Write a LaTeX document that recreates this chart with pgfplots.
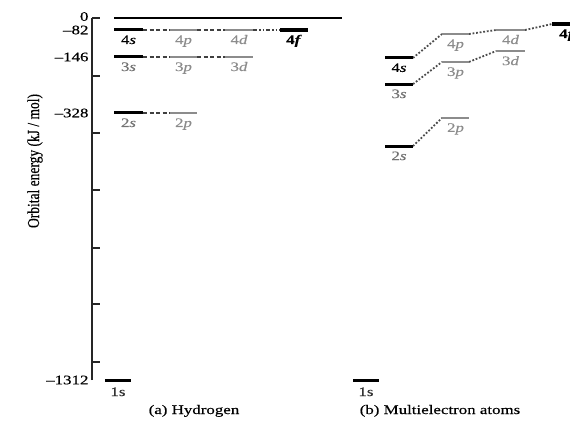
\documentclass[border=0pt]{standalone}
\usepackage{fontspec}
\setmainfont{Liberation Serif}[FakeStretch=1.3, FakeBold=0.4]
\newfontfamily\ylabfont{Liberation Serif}[FakeBold=0.4]
\usepackage{pgfplots}
\pgfplotsset{compat=1.18}
\definecolor{lvlgray}{gray}{0.55}
\definecolor{txtgray}{gray}{0.45}
\newcommand\fs{\fontsize{13}{15}\selectfont}
\tikzset{
    slev/.style={black, line width=3pt},
    plev/.style={lvlgray, line width=2.5pt},
    flev/.style={black, line width=4pt},
    hcon/.style={black!75, line width=1.3pt, dash pattern=on 4pt off 2.5pt},
    mcon/.style={black!70, line width=1.8pt, dash pattern=on 1.8pt off 1.8pt},
    lab/.style={font=\fs, anchor=base, yshift=-14pt},
}

\begin{document}
\begin{tikzpicture}
\useasboundingbox (0,0) rectangle (570pt,-426pt);
\begin{axis}[
    at={(92pt,-380pt)}, anchor=south west,
    x=1pt, y=1pt,
    xmin=92, xmax=580,
    ymin=-1312, ymax=0,
    % the energy scale of the drawing is not linear
    y coord trafo/.code={\pgfmathparse{#1>-82 ? #1*0.146341 : (#1>-146 ? -12+(#1+82)*0.421875 : (#1>-328 ? -39+(#1+146)*0.307692 : -95+(#1+328)*0.271341))}},
    clip=false,
    axis x line=none,
    axis y line*=left,
    axis line style={line width=1.6pt, draw=black!85},
    tick align=inside,
    major tick length=8pt,
    tick style={line width=1.6pt, draw=black!85},
    ytick={0,-208,-402,-612,-826,-1032,-1246},
    yticklabels={\raisebox{3pt}{0},{},{},{},{},{},{}},
    extra y ticks={-82,-146,-328,-1312},
    extra y tick labels={–82,–146,–328,–1312},
    extra y tick style={major tick length=0pt},
    yticklabel style={font=\fs, anchor=east},
    ylabel={\scalebox{1}[1.25]{\ylabfont\fontsize{13.5}{15}\selectfont Orbital energy (kJ / mol)}},
    every axis y label/.style={at={(rel axis cs:0,0.605)}, rotate=90, anchor=center, yshift=57pt},
]
% zero line
\addplot[black, line width=1.6pt] coordinates {(114,0) (342,0)};

% hydrogen connectors
\addplot[hcon] coordinates {(143,-328) (170,-328)};
\addplot[hcon] coordinates {(143,-146) (170,-146)};
\addplot[hcon] coordinates {(197,-146) (225,-146)};
\addplot[hcon] coordinates {(143,-82) (170,-82)};
\addplot[hcon] coordinates {(197,-82) (225,-82)};
\addplot[black!75, line width=1.3pt, dash pattern=on 4pt off 2pt on 1.5pt off 2pt on 1.5pt off 2pt] coordinates {(253,-82) (280,-82)};

% hydrogen levels
\addplot[slev] coordinates {(105,-1312) (131,-1312)};
\addplot[slev] coordinates {(114,-328) (143,-328)};
\addplot[slev] coordinates {(114,-146) (143,-146)};
\addplot[slev] coordinates {(114,-82) (143,-82)};
\addplot[plev] coordinates {(170,-328) (197,-328)};
\addplot[plev] coordinates {(170,-146) (197,-146)};
\addplot[plev] coordinates {(170,-82) (197,-82)};
\addplot[plev] coordinates {(225,-146) (253,-146)};
\addplot[plev] coordinates {(225,-82) (253,-82)};
\addplot[flev] coordinates {(280,-82) (308,-82)};

% multielectron connectors
\addplot[mcon] coordinates {(413,-450) (442,-346)};
\addplot[mcon] coordinates {(413,-234) (442,-162)};
\addplot[mcon] coordinates {(469,-162) (496,-132)};
\addplot[mcon] coordinates {(413,-149) (442,-91.5)};
\addplot[mcon] coordinates {(469,-91.5) (496,-82)};
\addplot[mcon] coordinates {(525,-82) (552,-41)};

% multielectron levels
\addplot[slev] coordinates {(353,-1312) (379,-1312)};
\addplot[slev] coordinates {(385,-450) (413,-450)};
\addplot[slev] coordinates {(385,-234) (413,-234)};
\addplot[slev] coordinates {(385,-149) (413,-149)};
\addplot[plev] coordinates {(442,-346) (469,-346)};
\addplot[plev] coordinates {(442,-162) (469,-162)};
\addplot[plev] coordinates {(442,-91.5) (469,-91.5)};
\addplot[plev] coordinates {(496,-132) (525,-132)};
\addplot[plev] coordinates {(496,-82) (525,-82)};
\addplot[flev] coordinates {(552,-41) (582,-41)};

% labels, hydrogen
\node[lab, yshift=-2pt, text=black!80] at (axis cs:118,-1312) {1s};
\node[lab, text=txtgray] at (axis cs:128.5,-328) {2\textit{s}};
\node[lab, text=txtgray] at (axis cs:128.5,-146) {3\textit{s}};
\node[lab, text=black] at (axis cs:128.5,-82) {4\textit{s}};
\node[lab, text=lvlgray] at (axis cs:183.5,-328) {2\textit{p}};
\node[lab, text=lvlgray] at (axis cs:183.5,-146) {3\textit{p}};
\node[lab, text=lvlgray] at (axis cs:183.5,-82) {4\textit{p}};
\node[lab, text=lvlgray] at (axis cs:239,-146) {3\textit{d}};
\node[lab, text=lvlgray] at (axis cs:239,-82) {4\textit{d}};
\node[lab, text=black] at (axis cs:294,-82) {\textbf{4\textit{f}}};

% labels, multielectron
\node[lab, yshift=-2pt, text=black!80] at (axis cs:366,-1312) {1s};
\node[lab, text=txtgray] at (axis cs:399,-450) {2\textit{s}};
\node[lab, text=txtgray] at (axis cs:399,-234) {3\textit{s}};
\node[lab, text=black] at (axis cs:399,-149) {4\textit{s}};
\node[lab, text=lvlgray] at (axis cs:455.5,-346) {2\textit{p}};
\node[lab, text=lvlgray] at (axis cs:455.5,-162) {3\textit{p}};
\node[lab, text=lvlgray] at (axis cs:455.5,-91.5) {4\textit{p}};
\node[lab, text=lvlgray] at (axis cs:510.5,-132) {3\textit{d}};
\node[lab, text=lvlgray] at (axis cs:510.5,-82) {4\textit{d}};
\node[lab, text=black] at (axis cs:567,-41) {\textbf{4\textit{f}}};

% captions
\node[font=\fs, anchor=base, yshift=-34pt] at (axis cs:194,-1312) {(a) Hydrogen};
\node[font=\fs, anchor=base, yshift=-34pt] at (axis cs:440,-1312) {(b) Multielectron atoms};
\end{axis}
\end{tikzpicture}
\end{document}
